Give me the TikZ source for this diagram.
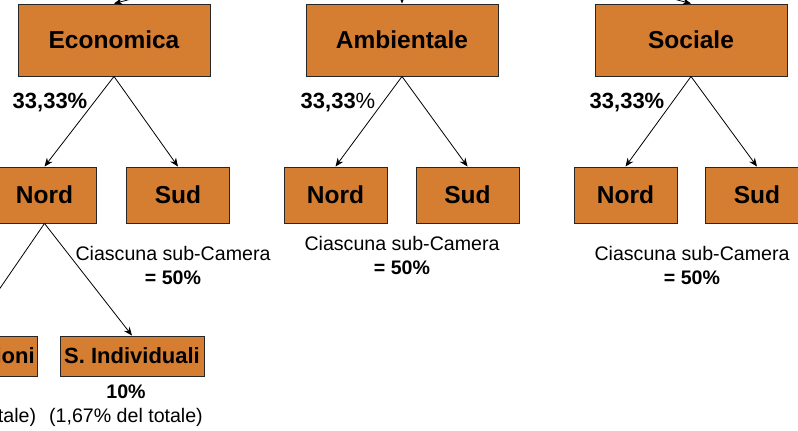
\documentclass[tikz,border=0pt]{standalone}
\usepackage{fontspec}
\setmainfont{Liberation Sans}
\usetikzlibrary{positioning,arrows.meta}
\definecolor{camorange}{RGB}{213,125,49}
\begin{document}
\begin{tikzpicture}[x=1pt,y=1pt,
	box/.style={draw=black!85,line width=0.9pt,fill=camorange,inner sep=1pt,minimum width=192pt,minimum height=72pt,font=\fontsize{24.5}{28}\selectfont\bfseries},
	sub/.style={box,minimum width=103pt,minimum height=56pt},
	leaf/.style={box,minimum width=144pt,minimum height=40pt,font=\fontsize{22}{26}\selectfont\bfseries},
	perc/.style={font=\fontsize{22}{26}\selectfont\bfseries},
	note/.style={align=center,font=\fontsize{19.6}{24}\selectfont},
	>={Stealth[length=8.5pt,width=7pt]}]
		\useasboundingbox (0,0) rectangle (798,-431);
		\coordinate (root) at (402,72);
		\node[box](econ) at (114,-40){Economica};
		\node[box](amb) at (402,-40){Ambientale};
		\node[box](soc) at (691,-40){Sociale};
		\node[sub,below of=econ,node distance=155pt,xshift=-69.5pt](econnord){Nord};
		\node[sub,below of=econ,node distance=155pt,xshift=64pt](econsud){Sud};
		\node[sub,below of=amb,node distance=155pt,xshift=-66.5pt](ambnord){Nord};
		\node[sub,below of=amb,node distance=155pt,xshift=65.5pt](ambsud){Sud};
		\node[sub,below of=soc,node distance=155pt,xshift=-65.5pt](socnord){Nord};
		\node[sub,below of=soc,node distance=155pt,xshift=66pt](socsud){Sud};
		\node[leaf,below of=econnord,node distance=161pt,xshift=-77pt,minimum width=140pt](asso){Associazioni};
		\node[leaf,below of=econnord,node distance=161pt,xshift=87.5pt](ind){S. Individuali};
		\node[perc](econpct) at (50,-103){33,33\%};
		\node[perc](ambpct) at (338,-103){33,33{\mdseries\%}};
		\node[perc](socpct) at (627,-103){33,33\%};
		\node[note,below of=econsud,node distance=70pt,xshift=-5pt](econnote){Ciascuna sub-Camera\\\textbf{= 50\%}};
		\node[note,below of=amb,node distance=215pt](ambnote){Ciascuna sub-Camera\\\textbf{= 50\%}};
		\node[note,below of=soc,node distance=225pt,xshift=1pt](socnote){Ciascuna sub-Camera\\\textbf{= 50\%}};
		\node[note,below of=asso,node distance=49.5pt](assonote){\textbf{90\%}\\(15\% del totale)};
		\node[note,below of=ind,node distance=49.5pt,xshift=-6pt](indnote){\textbf{10\%}\\(1,67\% del totale)};
		\path[->,line width=0.8pt]
		(root) edge (econ.north)
		(root) edge (amb.north)
		(root) edge (soc.north)
		(econ.south) edge (econnord.north)
		(econ.south) edge (econsud.north)
		(amb.south) edge (ambnord.north)
		(amb.south) edge (ambsud.north)
		(soc.south) edge (socnord.north)
		(soc.south) edge (socsud.north)
		(econnord.south) edge (asso.north)
		(econnord.south) edge (ind.north);
		\end{tikzpicture}
\end{document}
